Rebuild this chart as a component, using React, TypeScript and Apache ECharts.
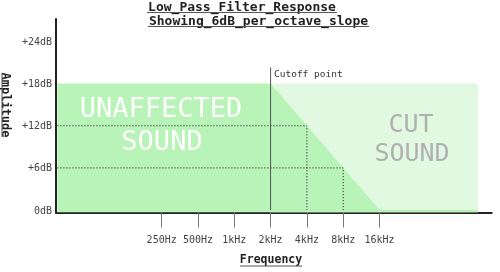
import React, { useEffect, useRef } from "react";
import * as echarts from "echarts";

// Frequency axis: octave index relative to 250Hz
const freqOctaves = [0, 1, 2, 3, 4, 5, 6];
const freqLabels = ["250Hz", "500Hz", "1kHz", "2kHz", "4kHz", "8kHz", "16kHz"];
const dbTicks = [0, 6, 12, 18, 24];
const dbLabels = ["0dB", "+6dB", "+12dB", "+18dB", "+24dB"];

// Filter response (octave index, dB)
const responseX = [-2.87, 3, 6, 8.71];
const responseDb = [18, 18, 0, 0];
// Cut region top (octave index, dB)
const cutX = [3, 8.71];
const cutDb = [18, 18];
// Guide lines
const guide12X = [-2.87, 4, 4];
const guide12Db = [12, 12, 0];
const guide6X = [-2.87, 5, 5];
const guide6Db = [6, 6, 0];
const cutoffX = [3, 3];
const cutoffDb = [0, 20.3];

const zip = (xs: number[], ys: number[]) => xs.map((x, i) => [x, ys[i]]);

const MONO = "DejaVu Sans Mono";

export default function App() {
  const ref = useRef<HTMLDivElement>(null);
  useEffect(() => {
    if (!ref.current) return;
    const chart = echarts.init(ref.current, null, { renderer: "svg" });
    const option: any = {
      animation: false,
      textStyle: { fontFamily: MONO },
      grid: { left: 56, right: 8.3, top: 19, bottom: 59.5, containLabel: false },
      xAxis: {
        type: "value",
        min: -2.91,
        max: 9.09,
        splitLine: { show: false },
        axisLine: { show: true, onZero: false, lineStyle: { color: "#222", width: 2 } },
        axisTick: {
          show: true,
          customValues: freqOctaves,
          length: 15,
          lineStyle: { color: "#777", width: 1 },
        },
        axisLabel: {
          customValues: freqOctaves,
          formatter: (v: number) => freqLabels[freqOctaves.indexOf(Math.round(v))] ?? "",
          color: "#444",
          fontFamily: MONO,
          fontSize: 10,
          margin: 22,
        },
      },
      yAxis: {
        type: "value",
        min: -0.35,
        max: 27.2,
        splitLine: { show: false },
        axisLine: { show: true, onZero: false, lineStyle: { color: "#222", width: 2 } },
        axisTick: { show: false },
        axisLabel: {
          customValues: dbTicks,
          formatter: (v: number) => dbLabels[dbTicks.indexOf(Math.round(v))] ?? "",
          color: "#444",
          fontFamily: MONO,
          fontSize: 10,
          margin: 4,
        },
      },
      series: [
        {
          type: "line",
          data: zip(cutX, cutDb),
          symbol: "none",
          lineStyle: { width: 0 },
          areaStyle: { color: "#e0f9e0", opacity: 1, origin: "start" },
          z: 1,
        },
        {
          type: "line",
          data: zip(responseX, responseDb),
          symbol: "none",
          lineStyle: { width: 0 },
          areaStyle: { color: "#b8f3b8", opacity: 1, origin: "start" },
          z: 2,
        },
        {
          type: "line",
          data: zip(guide12X, guide12Db),
          symbol: "none",
          lineStyle: { color: "#111", width: 1, type: [1, 2] },
          z: 3,
        },
        {
          type: "line",
          data: zip(guide6X, guide6Db),
          symbol: "none",
          lineStyle: { color: "#111", width: 1, type: [1, 2] },
          z: 3,
        },
        {
          type: "line",
          data: zip(cutoffX, cutoffDb),
          symbol: "none",
          lineStyle: { color: "#555", width: 1 },
          z: 3,
        },
      ],
      graphic: [
        {
          type: "text",
          x: 242,
          y: 6.5,
          style: {
            text: "Low_Pass_Filter_Response",
            font: `bold 13px "${MONO}"`,
            fill: "#222",
            align: "center",
            verticalAlign: "middle",
          },
        },
        { type: "line", shape: { x1: 147, y1: 12.5, x2: 337, y2: 12.5 }, style: { stroke: "#555", lineWidth: 1 } },
        {
          type: "text",
          x: 258.5,
          y: 20,
          style: {
            text: "Showing_6dB_per_octave_slope",
            font: `bold 13px "${MONO}"`,
            fill: "#222",
            align: "center",
            verticalAlign: "middle",
          },
        },
        { type: "line", shape: { x1: 148, y1: 26.5, x2: 369, y2: 26.5 }, style: { stroke: "#555", lineWidth: 1 } },
        {
          type: "group",
          x: 6,
          y: 105,
          rotation: -Math.PI / 2,
          children: [
            {
              type: "text",
              x: 0,
              y: 0,
              style: {
                text: "Amplitude",
                font: `bold 12px "${MONO}"`,
                fill: "#222",
                align: "center",
                verticalAlign: "middle",
              },
            },
            { type: "line", shape: { x1: -32, y1: 4, x2: 32, y2: 4 }, style: { stroke: "#555", lineWidth: 1 } },
          ],
        },
        {
          type: "text",
          x: 271,
          y: 259,
          style: {
            text: "Frequency",
            font: `bold 11.5px "${MONO}"`,
            fill: "#222",
            align: "center",
            verticalAlign: "middle",
          },
        },
        { type: "line", shape: { x1: 240, y1: 266, x2: 302, y2: 266 }, style: { stroke: "#555", lineWidth: 1 } },
        {
          type: "text",
          x: 274,
          y: 73,
          style: {
            text: "Cutoff point",
            font: `9.5px "${MONO}"`,
            fill: "#333",
            align: "left",
            verticalAlign: "middle",
          },
        },
        {
          type: "text",
          x: 161,
          y: 107.5,
          z: 10,
          style: { text: "UNAFFECTED", font: `27px "${MONO}"`, fill: "#ffffff", align: "center", verticalAlign: "middle" },
        },
        {
          type: "text",
          x: 162,
          y: 140,
          z: 10,
          style: { text: "SOUND", font: `27px "${MONO}"`, fill: "#ffffff", align: "center", verticalAlign: "middle" },
        },
        {
          type: "text",
          x: 411,
          y: 123.5,
          z: 10,
          style: { text: "CUT", font: `25px "${MONO}"`, fill: "#b0b0b0", align: "center", verticalAlign: "middle" },
        },
        {
          type: "text",
          x: 412,
          y: 152,
          z: 10,
          style: { text: "SOUND", font: `25px "${MONO}"`, fill: "#b0b0b0", align: "center", verticalAlign: "middle" },
        },
      ],
    };
    chart.setOption(option);
    return () => chart.dispose();
  }, []);
  return <div ref={ref} style={{ position: "fixed", left: 0, top: 0, width: 500, height: 272 }} />;
}
